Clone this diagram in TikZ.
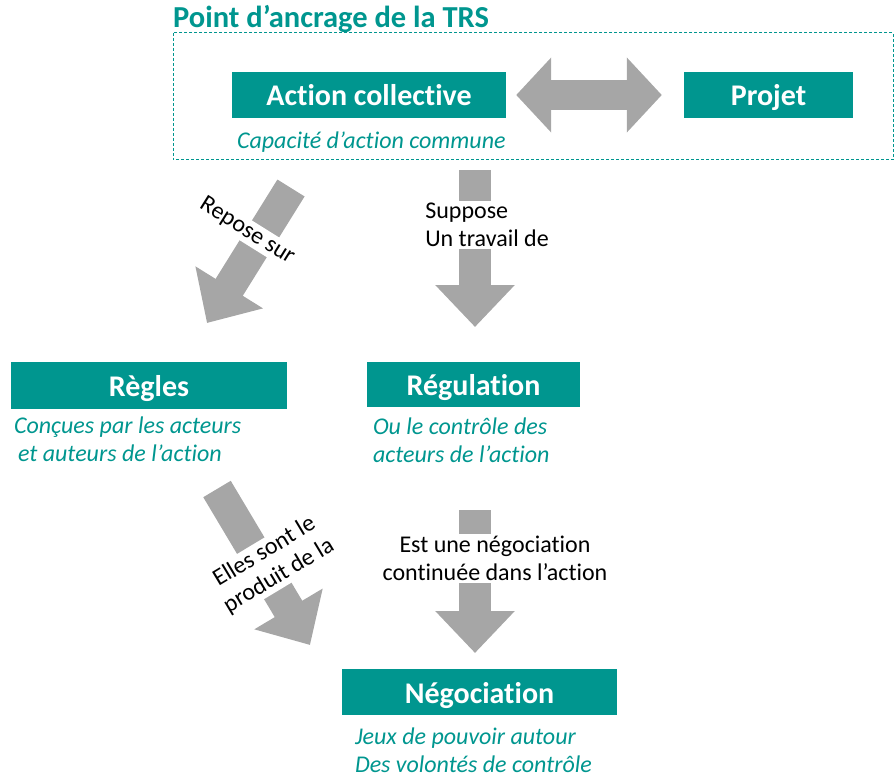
\documentclass[tikz,border=0pt]{standalone}
\usepackage{fontspec}
\setmainfont{Carlito}[Ligatures=NoCommon]
\usetikzlibrary{arrows.meta,positioning}
\definecolor{trsteal}{RGB}{0,150,143}
\definecolor{flowgrey}{RGB}{166,166,166}
\tikzset{box/.style={fill=trsteal, text=white, inner sep=0pt,
        font=\fontsize{30}{36}\selectfont\bfseries, minimum height=46pt,
        text height=22pt, text depth=0pt},
    sub/.style={text=trsteal, align=left, inner sep=0pt,
        font=\fontsize{24}{28}\selectfont\itshape},
    flow/.style={draw=flowgrey, line width=32pt,
        -{Triangle[width=77pt,length=42pt]}},
    flowlabel/.style={fill=white, inner sep=2pt,
        font=\fontsize{24}{28}\selectfont},
    }

\begin{document}
\begin{tikzpicture}[x=1pt,y=-1pt]
	\useasboundingbox (0,0) rectangle (894,778);
	% point d'ancrage
	\node[anchor=base west, inner sep=0pt, text=trsteal,
		font=\fontsize{30.5}{34}\selectfont\bfseries] (titre) at (173,28) {Point d’ancrage de la TRS};
	\draw[trsteal, line width=1pt, dash pattern=on 3pt off 2pt] (173,33) rectangle (893,160);
	\node[box, minimum width=274pt] (action) at (369,95) {Action collective};
	\node[box, minimum width=169pt] (projet) at (768.5,95) {Projet};
	\node[sub, below=13pt of action.south west, anchor=north west, xshift=5pt] (capacite) {Capacité d’action commune};
	\draw[flowgrey, line width=30pt, shorten <=10pt, shorten >=22pt,
		{Triangle[width=73pt,length=35pt]}-{Triangle[width=73pt,length=35pt]}] (action.east) -- (projet.west);
	% second niveau
	\node[box, minimum width=276pt, minimum height=47pt] (regles) at (149,385.5) {Règles};
	\node[sub, below=7pt of regles.south west, anchor=north west, xshift=3pt] (concues) {Conçues par les acteurs\\\hspace{4pt}et auteurs de l’action};
	\node[box, minimum width=213pt, minimum height=45pt] (regulation) at (473.5,384.5) {Régulation};
	\node[sub, below=10pt of regulation.south west, anchor=north west, xshift=6pt] (controle) {Ou le contrôle des\\acteurs de l’action};
	% troisieme niveau
	\node[box, minimum width=275pt] (nego) at (479.5,692) {Négociation};
	\node[sub, below=12pt of nego.south west, anchor=north west, xshift=13pt] (jeux) {Jeux de pouvoir autour\\Des volontés de contrôle};
	% fleches
	\coordinate (repose-a) at (291,188);
	\coordinate (repose-b) at (207,323);
	\coordinate (suppose-a) at (475,170);
	\coordinate (suppose-b) at (475,327);
	\coordinate (produit-a) at (217,489);
	\coordinate (produit-b) at (310,645);
	\coordinate (continue-a) at (475,510);
	\coordinate (continue-b) at (475,653);
	\draw[flow] (repose-a) -- node[flowlabel, pos=0.32, xshift=-17pt, rotate=-32] {Repose sur} (repose-b);
	\draw[flow] (suppose-a) -- node[flowlabel, align=left, pos=0.35, xshift=12pt] {Suppose\\Un travail de} (suppose-b);
	\draw[flow] (produit-a) -- node[flowlabel, align=center, pos=0.48, xshift=10pt, rotate=31] {Elles sont le\\produit de la} (produit-b);
	\draw[flow] (continue-a) -- node[flowlabel, align=center, pos=0.34, xshift=20pt] {Est une négociation\\continuée dans l’action} (continue-b);
\end{tikzpicture}
\end{document}
